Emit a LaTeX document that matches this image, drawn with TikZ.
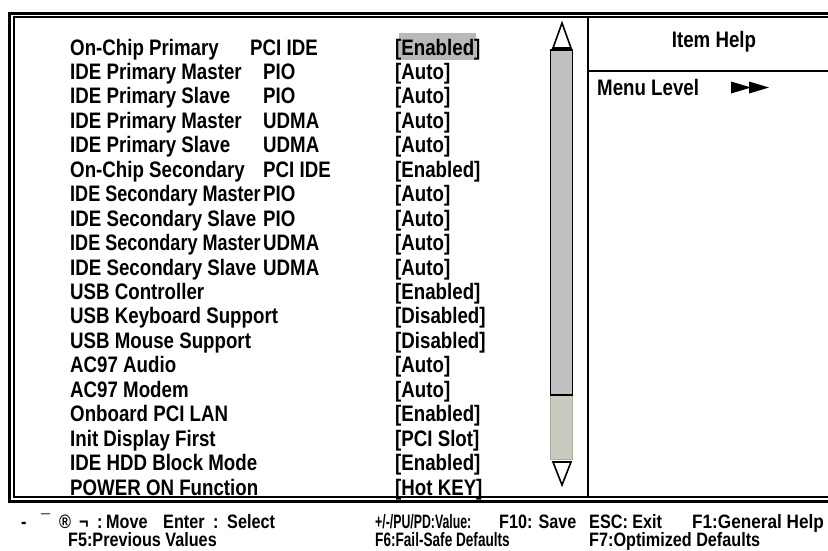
\documentclass[tikz,border=0pt]{standalone}
\usepackage{fontspec}
\setmainfont{Liberation Sans}[FakeStretch=0.835]
\definecolor{hl}{RGB}{184,184,184}
\definecolor{thumb}{RGB}{192,192,192}
\definecolor{track}{RGB}{202,202,190}
\begin{document}
\begin{tikzpicture}[x=1pt,y=-1pt,
  item/.style={anchor=base west,inner sep=0pt,font=\fontsize{22.4}{24}\selectfont\bfseries},
  foot/.style={anchor=base west,inner sep=0pt,font=\fontsize{19.4}{21}\selectfont\bfseries},
  frameouter/.style={line width=3pt},
  frameinner/.style={line width=2pt},
  divider/.style={line width=2.6pt},
  arrowtri/.style={draw,line width=1.6pt,fill=white,line join=miter}]
\useasboundingbox (0,0) rectangle (828,550);
% frame
\draw[frameouter] (828,13.5) -- (9.3,13.5) -- (9.3,501) -- (828,501);
\draw[frameinner] (828,17.2) -- (13.8,17.2) -- (13.8,496.5) -- (828,496.5);
% divider and help panel
\draw[divider] (588,18) -- (588,495.5);
\draw[divider] (588,71) -- (828,71);
\node[anchor=center,inner sep=0pt,font=\fontsize{22.4}{24}\selectfont\bfseries] (help) at (714,42) {Item Help};
\node[item] (menu) at (597,95) {Menu Level};
\fill (731,81.5) -- (751,87.5) -- (731,93.5) -- cycle;
\fill (749,81.5) -- (769,87.5) -- (749,93.5) -- cycle;
% highlight
\fill[hl] (399,33) rectangle (476,59.5);
% rows
\foreach \i/\a/\c in {
 0/{On-Chip Primary}/{[Enabled]},
 1/{IDE Primary Master}/{[Auto]},
 2/{IDE Primary Slave}/{[Auto]},
 3/{IDE Primary Master}/{[Auto]},
 4/{IDE Primary Slave}/{[Auto]},
 5/{On-Chip Secondary}/{[Enabled]},
 6/{\scalebox{0.965}[1]{IDE Secondary Master}}/{[Auto]},
 7/{IDE Secondary Slave}/{[Auto]},
 8/{\scalebox{0.965}[1]{IDE Secondary Master}}/{[Auto]},
 9/{IDE Secondary Slave}/{[Auto]},
 10/{USB Controller}/{[Enabled]},
 11/{USB Keyboard Support}/{[Disabled]},
 12/{USB Mouse Support}/{[Disabled]},
 13/{AC97 Audio}/{[Auto]},
 14/{AC97 Modem}/{[Auto]},
 15/{Onboard PCI LAN}/{[Enabled]},
 16/{Init Display First}/{[PCI Slot]},
 17/{IDE HDD Block Mode}/{[Enabled]},
 18/{POWER ON Function}/{[Hot KEY]}}{
  \node[item] (l\i) at (70,{55+24.45*\i}) {\a};
  \node[item] (v\i) at (395,{55+24.45*\i}) {\c};
}
\foreach \i/\b in {1/PIO,2/PIO,3/UDMA,4/UDMA,5/PCI IDE,6/PIO,7/PIO,8/UDMA,9/UDMA}{
  \node[item] (m\i) at (263,{55+24.45*\i}) {\b};
}
\node[item] (m0) at (250,55) {PCI IDE};
% scrollbar
\fill[track,draw=track!85!black,line width=0.8pt] (550.5,395) rectangle (572.5,459);
\draw[fill=thumb,line width=1.5pt] (550.5,50) rectangle (572.5,395);
\draw[arrowtri] (562,23) -- (571,48) -- (553,48) -- cycle;
\draw[arrowtri] (553,462) -- (571,462) -- (562,485) -- cycle;
% footer
\node[foot] (k1) at (21,528) {-};
\node[foot] (k2) at (41,528) {¯};
\node[foot] (k3) at (59,528) {®};
\node[foot] (k4) at (79,528) {¬};
\node[foot] (f1a) at (97,528) {:};
\node[foot] (f1b) at (106,528) {Move};
\node[foot] (f2a) at (163,528) {Enter};
\node[foot] (f2b) at (213,528) {:};
\node[foot] (f2c) at (227,528) {Select};
\node[foot] (f3) at (375,528) {\scalebox{0.76}[1]{+/-/PU/PD:Value:}};
\node[foot] (f4) at (499,528) {F10: Save};
\node[foot] (f5) at (589,528) {ESC: Exit};
\node[foot] (f6) at (692,528) {\scalebox{1.06}[1]{F1:General Help}};
\node[foot] (g1) at (68,546) {F5:Previous Values};
\node[foot] (g2) at (375,546) {\scalebox{0.84}[1]{F6:Fail-Safe Defaults}};
\node[foot] (g3) at (589,546) {F7:Optimized Defaults};
\end{tikzpicture}
\end{document}
